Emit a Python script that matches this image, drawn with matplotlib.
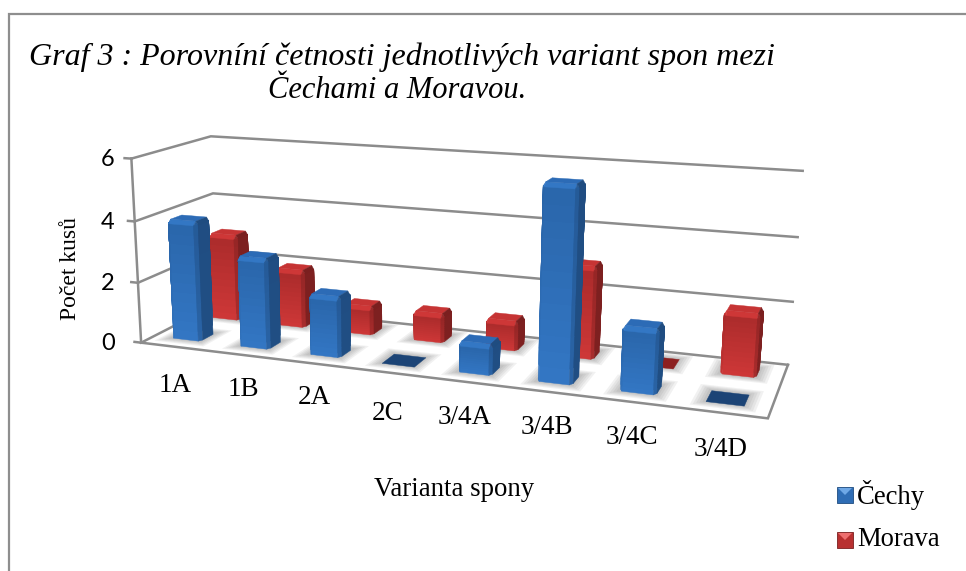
import numpy as np
import matplotlib
matplotlib.use("Agg")
import matplotlib.pyplot as plt
from matplotlib.patches import Polygon, Rectangle
from mpl_toolkits.mplot3d.art3d import Poly3DCollection

categories = ["1A", "1B", "2A", "2C", "3/4A", "3/4B", "3/4C", "3/4D"]
cechy = [4, 3, 2, 0, 1, 6, 2, 0]
morava = [3, 2, 1, 1, 1, 3, 0, 2]
z_ticks = [0, 2, 4, 6]
title_lines = ["Graf 3 : Porovníní četnosti jednotlivých variant spon mezi", "Čechami a Moravou."]

W, H = 966, 571
SERIF = "Liberation Serif"
GRID = "#8c8c8c"

# calibration of the oblique view: box corner (x, y, z) -> reference pixel
calib = [
    ((0, 0, 0), (142, 342)), ((0, 0, 2), (140, 282)), ((0, 0, 4), (135, 222)), ((0, 0, 6), (128, 159)),
    ((0, 1, 0), (214, 305)), ((0, 1, 4), (215, 193)), ((0, 1, 6), (212, 136)),
    ((8, 1, 0), (788, 364)), ((8, 1, 2), (793, 302)), ((8, 1, 4), (798, 237)), ((8, 1, 6), (802, 171)),
    ((8, 0, 0), (768, 419)),
]
rows = []
rhs = []
for (x, y, z), (u, v) in calib:
    rows.append([x, y, z, 1, 0, 0, 0, 0, -u * x, -u * y, -u * z]); rhs.append(u)
    rows.append([0, 0, 0, 0, x, y, z, 1, -v * x, -v * y, -v * z]); rhs.append(v)
p = np.linalg.lstsq(np.array(rows, float), np.array(rhs, float), rcond=None)[0]
P = np.array([p[:4], p[4:8], [*p[8:11], 1.0]])


def to_px(x, y, z):
    q = P @ np.array([x, y, z, 1.0])
    return q[0] / q[2], q[1] / q[2]


fig = plt.figure(figsize=(W / 100, H / 100), dpi=100, facecolor="white")
ax = fig.add_axes([0, -(W - H) / 2 / H, 1, W / H], projection="3d", computed_zorder=False)
ax.set_axis_off()
ax.patch.set_alpha(0)

# pixel -> 2D limits of the 3D axes (square of W pixels centred on the figure)
vx0, vx1 = ax.viewLim.intervalx
vy0, vy1 = ax.viewLim.intervaly
top = -(W - H) / 2
kx = (vx1 - vx0) / W
ky = (vy1 - vy0) / W
A = np.array([[kx, 0, vx0], [0, -ky, vy1 + top * ky], [0, 0, 1]])
Q = A @ P
M = np.array([Q[0], Q[1], [0.0, -0.3, -0.01, -0.7], Q[2]])
ax.get_proj = lambda: M


def poly(verts, colors, z, alpha=None):
    c = Poly3DCollection(verts, facecolors=colors, edgecolors=colors if alpha is None else "none",
                         linewidths=0.3 if alpha is None else 0, zorder=z, alpha=alpha)
    ax.add_collection3d(c)


def mix(a, b, t):
    return tuple((1 - t) * np.array(matplotlib.colors.to_rgb(a)) + t * np.array(matplotlib.colors.to_rgb(b)))


def bar(x0, y0, dx, dy, h, pal, z):
    x1, y1 = x0 + dx, y0 + dy
    cx, cy = dx * 0.07, dy * 0.16
    if h == 0:
        poly([[(x0, y0, 0), (x1, y0, 0), (x1, y1, 0), (x0, y1, 0)]], [pal["flat"]], z)
        return
    head = h - 0.06                     # rounded top sits just under the value
    b = min(0.12, h * 0.15)
    t = head - b
    n = 12
    levels = np.linspace(0, t, n + 1)
    for i in range(n):
        l0 = levels[i]
        f = 1 - (i + 0.5) / n
        base = mix(pal["low"], pal["high"], f)
        verts = [
            [(x0 + cx, y0, l0), (x1 - cx, y0, l0), (x1 - cx, y0, t), (x0 + cx, y0, t)],
            [(x0, y0 + cy, l0), (x0 + cx, y0, l0), (x0 + cx, y0, t), (x0, y0 + cy, t)],
            [(x1 - cx, y0, l0), (x1, y0 + cy, l0), (x1, y0 + cy, t), (x1 - cx, y0, t)],
            [(x1, y0 + cy, l0), (x1, y1 - cy, l0), (x1, y1 - cy, t), (x1, y0 + cy, t)],
        ]
        cols = [base, mix(base, pal["side"], 0.12), mix(base, pal["side"], 0.45), mix(base, pal["side"], 0.95)]
        poly(verts, cols, z + i * 0.001)
    verts = [
        [(x0 + cx, y0, t), (x1 - cx, y0, t), (x1 - cx, y0 + cy, head), (x0 + cx, y0 + cy, head)],
        [(x0, y0 + cy, t), (x0 + cx, y0, t), (x0 + cx, y0 + cy, head)],
        [(x1 - cx, y0, t), (x1, y0 + cy, t), (x1 - cx, y0 + cy, head)],
        [(x1, y0 + cy, t), (x1, y1 - cy, t), (x1 - cx, y1 - cy, head), (x1 - cx, y0 + cy, head)],
        [(x0 + cx, y0 + cy, head), (x1 - cx, y0 + cy, head), (x1 - cx, y1 - cy, head), (x0 + cx, y1 - cy, head)],
    ]
    cols = [pal["high"], pal["high"], mix(pal["high"], pal["side"], 0.6), pal["side"], pal["top"]]
    poly(verts, cols, z + 0.1)


def shadow(x0, y0, dx, dy, z):
    for k in range(1, 6):
        mx, my = 0.03 * k, 0.018 * k
        poly([[(x0 - mx, y0 - my, 0), (x0 + dx + mx, y0 - my, 0), (x0 + dx + mx, y0 + dy + my, 0), (x0 - mx, y0 + dy + my, 0)]],
             ["#444444"], z, alpha=0.07)


blue = dict(high="#3377C4", low="#2A66AB", side="#1F4C80", top="#2C6BB6", flat="#1C4476")
red = dict(high="#CE3737", low="#AC2C2C", side="#7A1F1F", top="#C63434", flat="#8C2020")

# floor
poly([[(0, 0, 0), (8, 0, 0), (8, 1, 0), (0, 1, 0)]], ["white"], 1)

# grid on walls and floor outline
for z in z_ticks:
    ax.plot([0, 0, 8], [0, 1, 1], [z, z, z], color=GRID, lw=1.8, zorder=2, solid_joinstyle="miter")
    ax.plot([-0.1, 0], [0, 0], [z, z], color=GRID, lw=1.8, zorder=2)
ax.plot([0, 0], [0, 0], [0, 6], color=GRID, lw=1.8, zorder=2)
ax.plot([0, 8, 8], [0, 0, 1], [0, 0, 0], color=GRID, lw=1.8, zorder=2, solid_joinstyle="miter")

BW = 0.43
DEPTH = 0.2
X_SHIFT = -0.02
for i in range(len(categories)):
    x0 = i + 0.5 - BW / 2 + X_SHIFT
    shadow(x0, 0.68, BW, DEPTH, 3)
    shadow(x0, 0.16, BW, DEPTH, 3)
for i, v in enumerate(morava):
    bar(i + 0.5 - BW / 2 + X_SHIFT, 0.68, BW, DEPTH, v, red, 5)
for i, v in enumerate(cechy):
    bar(i + 0.5 - BW / 2 + X_SHIFT, 0.16, BW, DEPTH, v, blue, 6)

# overlay in pixel coordinates: frame, titles, labels, legend
ov = fig.add_axes([0, 0, 1, 1], zorder=10)
ov.set_xlim(0, W)
ov.set_ylim(H, 0)
ov.set_axis_off()
ov.patch.set_alpha(0)

ov.plot([9, 9, W], [H, 14, 14], color="#8e8e8e", lw=1.6, solid_joinstyle="miter")
ov.text(29, 57, title_lines[0], family=SERIF, style="italic", fontsize=23, ha="left", va="center")
ov.text(268, 91, title_lines[1], family=SERIF, style="italic", fontsize=22, ha="left", va="center")
ov.text(71, 268, "Počet kusů", family=SERIF, fontsize=17, rotation=90, ha="center", va="center")
ov.text(454, 489, "Varianta spony", family=SERIF, fontsize=19.3, ha="center", va="center")

for z in z_ticks:
    ov.text(108, to_px(0, 0, z)[1] + 1, str(z), fontsize=17, family="Lato", ha="center", va="center")

label_px = [(175, 386), (243, 390), (314, 397), (388, 413), (465, 418), (547, 427), (632, 437), (721, 449)]
for lab, (u, v) in zip(categories, label_px):
    ov.text(u, v, lab, family=SERIF, fontsize=19.5, ha="center", va="center")

for name, y, c, light, dark in [("Čechy", 495, "#2F6DB5", "#6FA8E6", "#1F4C80"), ("Morava", 540, "#B83030", "#EE7070", "#7A1F1F")]:
    ov.add_patch(Rectangle((837, y - 8), 16, 16, fc=c, ec=dark, lw=0.6))
    ov.add_patch(Polygon([(838, y - 7), (852, y - 7), (845, y)], fc=light, ec="none"))
    ov.text(857, y, name, family=SERIF, fontsize=19.2, ha="left", va="center")

fig.savefig("out.png", dpi=100, facecolor="white")
